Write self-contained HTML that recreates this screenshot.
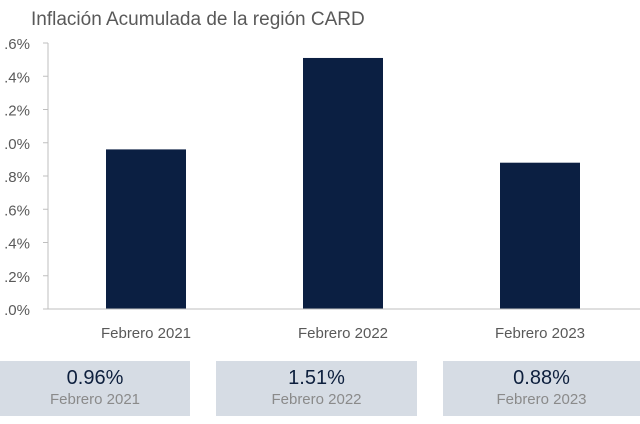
<!DOCTYPE html>
<html><head><meta charset="utf-8"><style>
body{margin:0;background:#fff;font-family:"Liberation Sans",sans-serif;}
#wrap{position:relative;width:640px;height:424px;overflow:hidden;}
.box{position:absolute;top:361px;height:55px;background:#d6dce4;text-align:center;}
.val{font-size:20px;color:#0d1f3d;margin-top:5px;line-height:24px;}
.lab{font-size:15px;color:#8a8a8a;line-height:20px;}
</style></head><body>
<div id="wrap">
<svg id="chart" width="640" height="350" style="position:absolute;left:0;top:0">
<text x="31" y="25" font-size="19" fill="#595959" font-family="Liberation Sans, sans-serif">Inflación Acumulada de la región CARD</text>
</svg>
<div class="box" style="left:0;width:190px"><div class="val">0.96%</div><div class="lab">Febrero 2021</div></div>
<div class="box" style="left:216px;width:201px"><div class="val">1.51%</div><div class="lab">Febrero 2022</div></div>
<div class="box" style="left:443px;width:197px"><div class="val">0.88%</div><div class="lab">Febrero 2023</div></div>
</div>
<script>
const categories=["Febrero 2021","Febrero 2022","Febrero 2023"];
const values=[0.96,1.51,0.88];
const tickValues=[0,0.2,0.4,0.6,0.8,1.0,1.2,1.4,1.6];
const tickLabels=[".0%",".2%",".4%",".6%",".8%",".0%",".2%",".4%",".6%"];
const svg=document.getElementById('chart');
const NS='http://www.w3.org/2000/svg';
const x0=48,x1=640,y0=309,y1=43,yMax=1.6;
const y=v=>y0-(v/yMax)*(y0-y1);
const band=197,barW=80,firstC=146;
const xc=i=>firstC+i*band;
function mk(t,a){const e=document.createElementNS(NS,t);for(const k in a)e.setAttribute(k,a[k]);svg.appendChild(e);return e;}
tickValues.forEach((v,i)=>{
 const l=mk('line',{x1:x0-5,x2:x0,y1:y(v),y2:y(v),stroke:'#bfbfbf'});
 
 
 const t=mk('text',{x:30,y:y(v)+6,'text-anchor':'end','font-size':15,fill:'#595959','font-family':'Liberation Sans, sans-serif'});
 t.textContent=tickLabels[i];
 
 
});
const ya=mk('line',{x1:x0,x2:x0,y1:y1,y2:y0,stroke:'#bfbfbf'});


values.forEach((v,i)=>{
 const r=mk('rect',{x:xc(i)-barW/2,y:y(v),width:barW,height:y0-y(v),fill:'#0b1f42'});
 
 
 const t=mk('text',{x:xc(i),y:338,'text-anchor':'middle','font-size':15,fill:'#595959','font-family':'Liberation Sans, sans-serif'});
 t.textContent=categories[i];
 
 
});
const xa=mk('line',{x1:x0-5,x2:x1,y1:y0,y2:y0,stroke:'#bfbfbf'});


</script>
</body></html>
